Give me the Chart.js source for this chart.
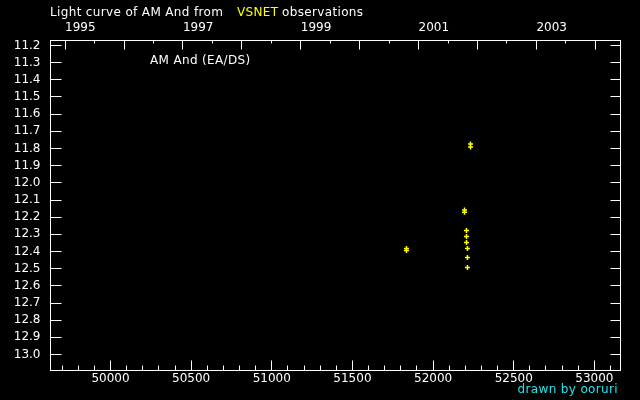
<!DOCTYPE html>
<html><head><meta charset="utf-8">
<script src="https://cdn.jsdelivr.net/npm/chart.js@4"></script>
<style>html,body{margin:0;padding:0;background:#000;}#wrap{width:640px;height:400px;position:relative;}</style>
</head><body><div id="wrap"><canvas id="c" width="640" height="400"></canvas></div>
<script>
// ---- data (JD - 2400000, visual magnitude) ----
const jdValues  = [51835, 51835, 52195, 52195, 52207, 52207, 52207, 52213, 52213, 52213, 52232, 52232];
const magValues = [12.383, 12.394, 12.158, 12.172, 12.278, 12.313, 12.348, 12.383, 12.435, 12.493, 11.774, 11.792];

// ---- axes ----
const jdMin = 49628, jdMax = 53162;
const magMin = 11.171, magMax = 13.093;
const magTicks = [11.2, 11.3, 11.4, 11.5, 11.6, 11.7, 11.8, 11.9, 12.0, 12.1, 12.2, 12.3, 12.4, 12.5, 12.6, 12.7, 12.8, 12.9, 13.0];
const jdMajorTicks = [50000, 50500, 51000, 51500, 52000, 52500, 53000];
const jdMinorTicks = [];
for (let v = 49700; v <= 53100; v += 100) jdMinorTicks.push(v);
const yearTicks = [1995, 1996, 1997, 1998, 1999, 2000, 2001, 2002, 2003, 2004];
const halfYearTicks = [1995.5, 1996.5, 1997.5, 1998.5, 1999.5, 2000.5, 2001.5, 2002.5, 2003.5];
const yearLabels = [1995, 1997, 1999, 2001, 2003];
const jdYear1995 = 49718.5;
const toYear = jd => 1995 + (jd - jdYear1995) / 365.25;

const FONT = '"DejaVu Sans", sans-serif';

const frame = {
  id: 'frame',
  beforeDraw(chart) {
    const c = chart.ctx;
    c.save(); c.fillStyle = '#000'; c.fillRect(0, 0, chart.width, chart.height); c.restore();
  },
  afterDraw(chart) {
    const c = chart.ctx;
    const {left, right, top, bottom} = chart.chartArea;
    const crisp = p => Math.round(p - 0.5) + 0.5;
    c.save();
    c.strokeStyle = '#fff'; c.lineWidth = 1;
    c.strokeRect(crisp(left), crisp(top), crisp(right) - crisp(left), crisp(bottom) - crisp(top));
    const line = (x1, y1, x2, y2) => { c.beginPath(); c.moveTo(x1, y1); c.lineTo(x2, y2); c.stroke(); };
    const L = crisp(left), R = crisp(right), T = crisp(top), B = crisp(bottom);
    const ys = chart.scales.y, xs = chart.scales.x, yr = chart.scales.yr;
    magTicks.forEach(v => { const p = crisp(ys.getPixelForValue(v)); line(L, p, L + 11, p); line(R, p, R - 10, p); });
    jdMajorTicks.forEach(v => { const p = crisp(xs.getPixelForValue(v)); line(p, B, p, B - 10); });
    jdMinorTicks.forEach(v => { const p = crisp(xs.getPixelForValue(v)); line(p, B, p, B - 5); });
    yearTicks.forEach(v => { const p = crisp(yr.getPixelForValue(v)); line(p, T, p, T + 9); });
    halfYearTicks.forEach(v => { const p = crisp(yr.getPixelForValue(v)); line(p, T, p, T + 3); });

    // texts
    c.textBaseline = 'alphabetic';
    c.font = '12px ' + FONT;
    c.textAlign = 'left';
    try { c.letterSpacing = '0.35px'; } catch (e) {}
    c.fillStyle = '#fff';
    c.fillText('Light curve of AM And from', 50, 16);
    c.fillStyle = '#ffff00';
    c.fillText('VSNET', 237, 16);
    c.fillStyle = '#fff';
    c.fillText('observations', 282, 16);
    c.fillText('AM And (EA/DS)', 150, 63.5);
    c.fillStyle = '#1ee6ea';
    c.textAlign = 'right';
    c.fillText('drawn by ooruri', 618, 393);
    try { c.letterSpacing = '0px'; } catch (e) {}
    c.restore();
  }
};

const tickFont = {family: FONT, size: 12};

new Chart(document.getElementById('c'), {
  type: 'scatter',
  data: {
    datasets: [{
      data: jdValues.map((x, i) => ({x, y: magValues[i]})),
      pointStyle: 'cross',
      pointRadius: 2.5,
      pointBorderWidth: 1.5,
      borderColor: '#ffff00',
      backgroundColor: '#ffff00',
      xAxisID: 'x', yAxisID: 'y'
    }]
  },
  options: {
    responsive: false,
    devicePixelRatio: 1,
    animation: false,
    layout: {padding: {left: 0, right: 19.5, top: 0, bottom: 0}},
    plugins: {legend: {display: false}, tooltip: {enabled: false}, title: {display: false}},
    scales: {
      x: {
        type: 'linear', position: 'bottom', min: jdMin, max: jdMax,
        grid: {display: false, drawTicks: false}, border: {display: false},
        afterBuildTicks: s => { s.ticks = jdMajorTicks.map(v => ({value: v})); },
        afterFit: s => { s.height = 29.5; },
        ticks: {color: '#fff', font: tickFont, padding: 1, autoSkip: false, maxRotation: 0, callback: v => String(v)}
      },
      yr: {
        type: 'linear', axis: 'x', position: 'top', min: toYear(jdMin), max: toYear(jdMax),
        grid: {display: false, drawTicks: false}, border: {display: false},
        afterBuildTicks: s => { s.ticks = yearLabels.map(v => ({value: v})); },
        afterFit: s => { s.height = 40.5; },
        ticks: {color: '#fff', font: tickFont, padding: 5, align: 'start', autoSkip: false, maxRotation: 0, callback: v => String(v)}
      },
      y: {
        type: 'linear', position: 'left', reverse: true, min: magMin, max: magMax,
        grid: {display: false, drawTicks: false}, border: {display: false},
        afterBuildTicks: s => { s.ticks = magTicks.map(v => ({value: v})); },
        afterFit: s => { s.width = 50.5; },
        ticks: {color: '#fff', font: tickFont, padding: 10, autoSkip: false, callback: v => v.toFixed(1)}
      }
    }
  },
  plugins: [frame]
});
</script>
</body></html>
